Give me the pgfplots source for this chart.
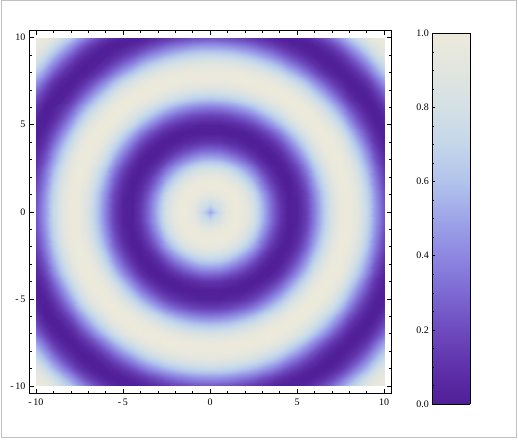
\documentclass[border=0pt]{standalone}
\usepackage{fontspec}
\setmainfont{Liberation Serif}
\usepackage{pgfplots}
\usepackage{pgfplotstable}
\pgfplotsset{compat=1.18}

\pgfplotsset{colormap={densitymap}{
  rgb255=(80,30,150) rgb255=(95,50,170) rgb255=(110,75,190) rgb255=(125,105,210)
  rgb255=(142,135,225) rgb255=(158,165,232) rgb255=(178,195,236) rgb255=(196,214,234)
  rgb255=(212,224,228) rgb255=(226,229,224) rgb255=(236,234,218)}}

% one quadrant, x = 0..10 and y = 0..10 in steps of 0.5 (x varies fastest)
\pgfplotstableread[row sep=\\]{
v\\
.50\\ .74\\ .92\\ 1.00\\ .95\\ .80\\ .57\\ .32\\ .12\\ .01\\ .02\\ .15\\ .36\\ .61\\ .83\\ .97\\ .99\\ .90\\ .71\\ .46\\ .23\\
.74\\ .82\\ .95\\ 1.00\\ .94\\ .78\\ .55\\ .31\\ .11\\ .01\\ .02\\ .16\\ .37\\ .62\\ .84\\ .97\\ .99\\ .89\\ .70\\ .46\\ .22\\
.92\\ .95\\ .99\\ .99\\ .89\\ .72\\ .49\\ .26\\ .08\\ .00\\ .04\\ .18\\ .40\\ .64\\ .85\\ .98\\ .99\\ .88\\ .68\\ .44\\ .21\\
1.00\\ 1.00\\ .99\\ .93\\ .80\\ .61\\ .39\\ .19\\ .05\\ .00\\ .06\\ .23\\ .45\\ .69\\ .88\\ .99\\ .98\\ .86\\ .65\\ .40\\ .18\\
.95\\ .94\\ .89\\ .80\\ .65\\ .47\\ .28\\ .11\\ .01\\ .01\\ .11\\ .29\\ .52\\ .75\\ .92\\ 1.00\\ .96\\ .82\\ .60\\ .36\\ .15\\
.80\\ .78\\ .72\\ .61\\ .47\\ .31\\ .15\\ .04\\ .00\\ .05\\ .18\\ .38\\ .61\\ .81\\ .96\\ 1.00\\ .93\\ .77\\ .54\\ .31\\ .11\\
.57\\ .55\\ .49\\ .39\\ .28\\ .15\\ .05\\ .00\\ .02\\ .12\\ .28\\ .49\\ .71\\ .88\\ .99\\ .99\\ .89\\ .70\\ .47\\ .24\\ .08\\
.32\\ .31\\ .26\\ .19\\ .11\\ .04\\ .00\\ .01\\ .09\\ .23\\ .41\\ .62\\ .81\\ .95\\ 1.00\\ .96\\ .82\\ .62\\ .39\\ .18\\ .04\\
.12\\ .11\\ .08\\ .05\\ .01\\ .00\\ .02\\ .09\\ .21\\ .37\\ .56\\ .75\\ .90\\ .99\\ .99\\ .90\\ .73\\ .52\\ .29\\ .11\\ .01\\
.01\\ .01\\ .00\\ .00\\ .01\\ .05\\ .12\\ .23\\ .37\\ .54\\ .71\\ .87\\ .97\\ 1.00\\ .95\\ .81\\ .62\\ .40\\ .20\\ .06\\ .00\\
.02\\ .02\\ .04\\ .06\\ .11\\ .18\\ .28\\ .41\\ .56\\ .71\\ .85\\ .96\\ 1.00\\ .97\\ .87\\ .70\\ .50\\ .29\\ .12\\ .02\\ .01\\
.15\\ .16\\ .18\\ .23\\ .29\\ .38\\ .49\\ .62\\ .75\\ .87\\ .96\\ 1.00\\ .98\\ .89\\ .75\\ .56\\ .36\\ .18\\ .05\\ .00\\ .04\\
.36\\ .37\\ .40\\ .45\\ .52\\ .61\\ .71\\ .81\\ .90\\ .97\\ 1.00\\ .98\\ .90\\ .77\\ .60\\ .41\\ .23\\ .09\\ .01\\ .01\\ .11\\
.61\\ .62\\ .64\\ .69\\ .75\\ .81\\ .88\\ .95\\ .99\\ 1.00\\ .97\\ .89\\ .77\\ .62\\ .44\\ .26\\ .11\\ .02\\ .00\\ .06\\ .20\\
.83\\ .84\\ .85\\ .88\\ .92\\ .96\\ .99\\ 1.00\\ .99\\ .95\\ .87\\ .75\\ .60\\ .44\\ .27\\ .13\\ .03\\ .00\\ .04\\ .15\\ .32\\
.97\\ .97\\ .98\\ .99\\ 1.00\\ 1.00\\ .99\\ .96\\ .90\\ .81\\ .70\\ .56\\ .41\\ .26\\ .13\\ .04\\ .00\\ .03\\ .12\\ .28\\ .47\\
.99\\ .99\\ .99\\ .98\\ .96\\ .93\\ .89\\ .82\\ .73\\ .62\\ .50\\ .36\\ .23\\ .11\\ .03\\ .00\\ .03\\ .11\\ .25\\ .43\\ .62\\
.90\\ .89\\ .88\\ .86\\ .82\\ .77\\ .70\\ .62\\ .52\\ .40\\ .29\\ .18\\ .09\\ .02\\ .00\\ .03\\ .11\\ .24\\ .41\\ .59\\ .76\\
.71\\ .70\\ .68\\ .65\\ .60\\ .54\\ .47\\ .39\\ .29\\ .20\\ .12\\ .05\\ .01\\ .00\\ .04\\ .12\\ .25\\ .41\\ .58\\ .75\\ .89\\
.46\\ .46\\ .44\\ .40\\ .36\\ .31\\ .24\\ .18\\ .11\\ .06\\ .02\\ .00\\ .01\\ .06\\ .15\\ .28\\ .43\\ .59\\ .75\\ .88\\ .97\\
.23\\ .22\\ .21\\ .18\\ .15\\ .11\\ .08\\ .04\\ .01\\ .00\\ .01\\ .04\\ .11\\ .20\\ .32\\ .47\\ .62\\ .76\\ .89\\ .97\\ 1.00\\
}\quadrant

% grid position of a row: column i and row j of the 21x21 quadrant
\newcommand{\gj}{floor((\coordindex+0.5)/21)}
\newcommand{\gi}{(\coordindex-21*floor((\coordindex+0.5)/21))}

\begin{document}
\begin{tikzpicture}
\useasboundingbox (0,0) rectangle (518pt,440pt);
\draw[color={rgb,255:red,192;green,192;blue,192}, line width=1pt] (1.5pt,3pt) rectangle (516pt,439pt);
\begin{axis}[
  at={(29pt,46.7pt)}, anchor=south west,
  scale only axis, width=362pt, height=362.6pt,
  xmin=-10.4, xmax=10.4, ymin=-10.42, ymax=10.4,
  xtick={-10,-5,0,5,10}, xticklabels={-\,10,-\,5,0,5,10},
  ytick={-10,-5,0,5,10}, yticklabels={-\,10,-\,5,0,5,10},
  minor tick num=4,
  tick align=inside,
  major tick length=4.5pt, minor tick length=2.5pt,
  tick style={black, line width=0.5pt},
  axis line style={line width=0.8pt},
  xticklabel style={yshift=-2pt},
  axis on top,
  colormap name=densitymap,
  point meta min=0, point meta max=1,
  colorbar sampled={surf, mark=none, shader=interp, samples=40},
  colorbar style={
    at={(parent axis.south east)}, anchor=south west,
    xshift=32.8pt, yshift=-10.7pt,
    scale only axis, width=37.7pt, height=370.7pt,
    ytick={0,0.2,0.4,0.6,0.8,1},
    minor y tick num=3,
    ytick pos=left, yticklabel pos=left,
    tick align=inside,
    major tick length=3pt, minor tick length=2pt,
    axis line style={line width=0.8pt},
    axis on top,
    yticklabel style={/pgf/number format/.cd, fixed, fixed zerofill, precision=1, assume math mode=true},
  },
]
\addplot[surf, shader=interp, mesh/cols=21, point meta=explicit]
  table[x index=0, y index=0, x expr={\gi/2}, y expr={\gj/2}, meta=v] {\quadrant};
\addplot[surf, shader=interp, mesh/cols=21, point meta=explicit]
  table[x index=0, y index=0, x expr={-\gi/2}, y expr={\gj/2}, meta=v] {\quadrant};
\addplot[surf, shader=interp, mesh/cols=21, point meta=explicit]
  table[x index=0, y index=0, x expr={\gi/2}, y expr={-\gj/2}, meta=v] {\quadrant};
\addplot[surf, shader=interp, mesh/cols=21, point meta=explicit]
  table[x index=0, y index=0, x expr={-\gi/2}, y expr={-\gj/2}, meta=v] {\quadrant};
\end{axis}
\end{tikzpicture}
\end{document}
